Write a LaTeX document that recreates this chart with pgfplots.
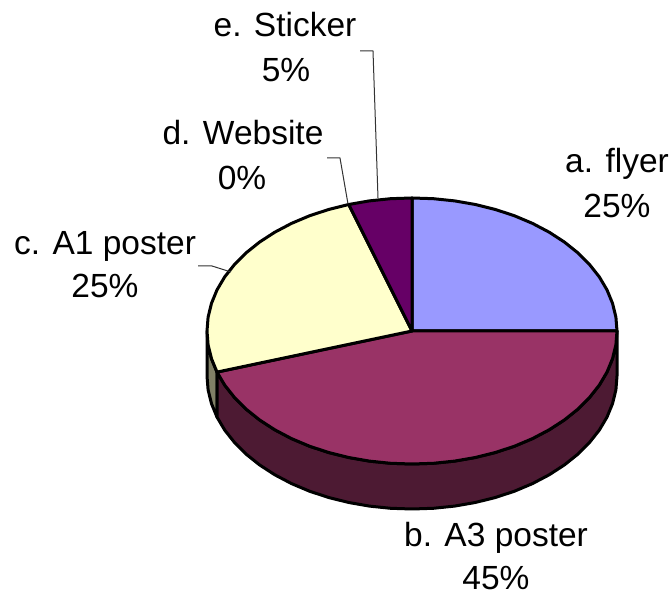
\documentclass[border=0pt]{standalone}
\usepackage{pgfplots}
\pgfplotsset{compat=1.18}
\usepackage{fontspec}
\setmainfont{Liberation Sans}
\definecolor{cA}{HTML}{9999FF}
\definecolor{cB}{HTML}{993366}
\definecolor{cC}{HTML}{FFFFCC}
\definecolor{cE}{HTML}{660066}
\definecolor{sB}{HTML}{4D1A33}
\definecolor{sC}{HTML}{808066}
\begin{document}
\begin{tikzpicture}
\begin{axis}[
  scale only axis, width=670pt, height=591pt,
  xmin=0, xmax=670, ymin=0, ymax=591,
  axis lines=none, clip=false,
  every axis plot/.append style={line join=round, line width=3pt, draw=black},
]
% sides
\addplot[fill=sC] coordinates {(217,218.9)(211.5,232.3)(208.1,246.1)(207,260)(207,215)(208.1,201.1)(211.5,187.3)(217,173.9)} -- cycle;
\addplot[fill=sB] coordinates {(617,260)(615.9,246.1)(612.5,232.3)(607,218.9)(599.3,205.9)(589.5,193.5)(577.8,181.8)(564.3,171)(549.2,161.2)(532.5,152.4)(514.5,144.8)(495.4,138.5)(475.3,133.5)(454.6,129.9)(433.4,127.7)(412,127)(390.6,127.7)(369.4,129.9)(348.7,133.5)(328.6,138.5)(309.5,144.8)(291.5,152.4)(274.8,161.2)(259.7,171)(246.2,181.8)(234.5,193.5)(224.7,205.9)(217,218.9)
(217,173.9)(224.7,160.9)(234.5,148.5)(246.2,136.8)(259.7,126)(274.8,116.2)(291.5,107.4)(309.5,99.8)(328.6,93.5)(348.7,88.5)(369.4,84.9)(390.6,82.7)(412,82)(433.4,82.7)(454.6,84.9)(475.3,88.5)(495.4,93.5)(514.5,99.8)(532.5,107.4)(549.2,116.2)(564.3,126)(577.8,136.8)(589.5,148.5)(599.3,160.9)(607,173.9)(612.5,187.3)(615.9,201.1)(617,215)} -- cycle;
% tops
\addplot[fill=cA] coordinates {(412,260)(412,393)(433.4,392.3)(454.6,390.1)(475.3,386.5)(495.4,381.5)(514.5,375.2)(532.5,367.6)(549.2,358.8)(564.3,349)(577.8,338.2)(589.5,326.5)(599.3,314.1)(607,301.1)(612.5,287.7)(615.9,273.9)(617,260)} -- cycle;
\addplot[fill=cB] coordinates {(412,260)(617,260)(615.9,246.1)(612.5,232.3)(607,218.9)(599.3,205.9)(589.5,193.5)(577.8,181.8)(564.3,171)(549.2,161.2)(532.5,152.4)(514.5,144.8)(495.4,138.5)(475.3,133.5)(454.6,129.9)(433.4,127.7)(412,127)(390.6,127.7)(369.4,129.9)(348.7,133.5)(328.6,138.5)(309.5,144.8)(291.5,152.4)(274.8,161.2)(259.7,171)(246.2,181.8)(234.5,193.5)(224.7,205.9)(217,218.9)} -- cycle;
\addplot[fill=cC] coordinates {(412,260)(217,218.9)(211.5,232.3)(208.1,246.1)(207,260)(208.1,273.9)(211.5,287.7)(217,301.1)(224.7,314.1)(234.5,326.5)(246.2,338.2)(259.7,349)(274.8,358.8)(291.5,367.6)(309.5,375.2)(328.6,381.5)(348.7,386.5)} -- cycle;
\addplot[fill=cE] coordinates {(412,260)(348.7,386.5)(369.4,390.1)(390.6,392.3)(412,393)} -- cycle;
% leader lines
\addplot[line width=1pt, draw=black!80, sharp plot] coordinates {(360,540)(373,540)(378,393)};
\addplot[line width=1pt, draw=black!80, sharp plot] coordinates {(327,433)(340,433)(348,387)};
\addplot[line width=1pt, draw=black!80, sharp plot] coordinates {(198,325)(212,325)(231,319)};
% labels
\def\lab#1#2#3{\node[font=\fontsize{33.5}{36}\selectfont, anchor=base, inner sep=0pt] at (axis cs:#1,#2) {#3};}
\lab{285}{554}{e. Sticker}
\lab{286}{509}{5\%}
\lab{243}{446}{d. Website}
\lab{242}{401}{0\%}
\lab{617}{418}{a. flyer}
\lab{617}{373}{25\%}
\lab{105}{336}{c. A1 poster}
\lab{105}{293}{25\%}
\lab{496}{44}{b. A3 poster}
\lab{496}{1.5}{45\%}
\end{axis}
\pgfresetboundingbox
\path[use as bounding box] (0,0) rectangle (670pt,591pt);
\end{tikzpicture}
\end{document}
